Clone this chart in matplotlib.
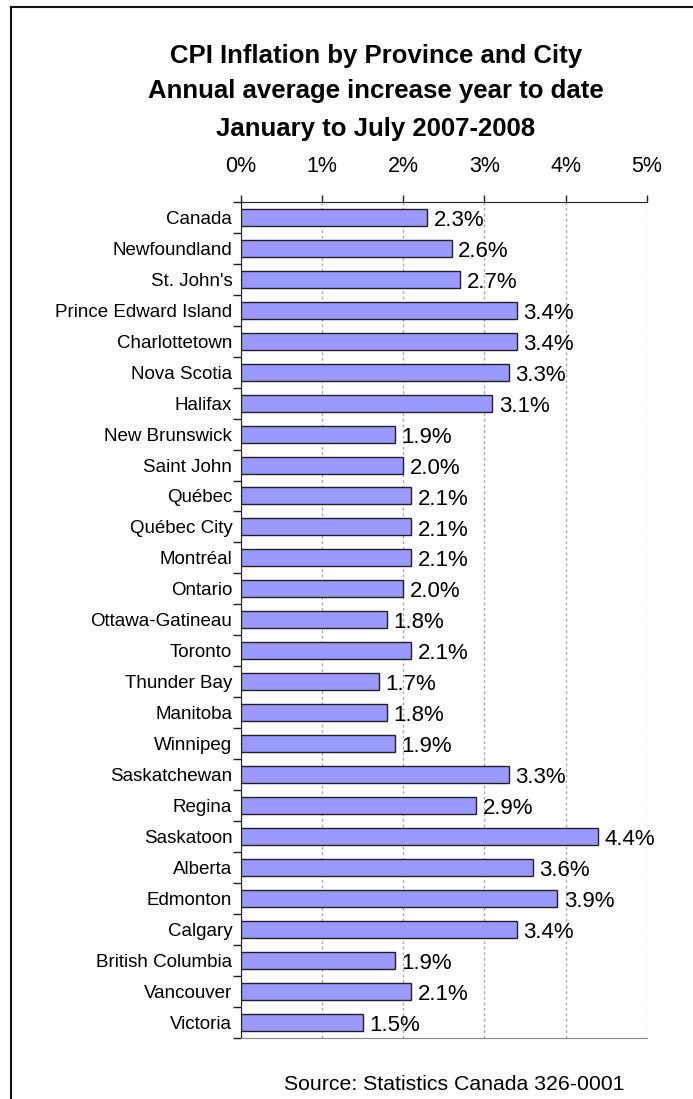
import matplotlib
matplotlib.use("Agg")
import matplotlib.pyplot as plt
from matplotlib.lines import Line2D
import numpy as np

plt.rcParams['font.family'] = ['Liberation Sans', 'DejaVu Sans']

# 資料
places = ["Canada", "Newfoundland", "St. John's", "Prince Edward Island",
          "Charlottetown", "Nova Scotia", "Halifax", "New Brunswick",
          "Saint John", "Québec", "Québec City", "Montréal", "Ontario",
          "Ottawa-Gatineau", "Toronto", "Thunder Bay", "Manitoba", "Winnipeg",
          "Saskatchewan", "Regina", "Saskatoon", "Alberta", "Edmonton",
          "Calgary", "British Columbia", "Vancouver", "Victoria"]
cpi = [2.3, 2.6, 2.7, 3.4, 3.4, 3.3, 3.1, 1.9, 2.0, 2.1, 2.1, 2.1, 2.0,
       1.8, 2.1, 1.7, 1.8, 1.9, 3.3, 2.9, 4.4, 3.6, 3.9, 3.4, 1.9, 2.1, 1.5]
xticks = [0, 1, 2, 3, 4, 5]
xtick_labels = ["0%", "1%", "2%", "3%", "4%", "5%"]

W, H = 693, 1099
fig = plt.figure(figsize=(W / 100, H / 100), dpi=100)
ax = fig.add_axes([240.7 / W, 1 - 1037.5 / H, (646.7 - 240.7) / W, (1037.5 - 202) / H])

y = np.arange(len(places))
ax.barh(y, cpi, height=0.55, color="#9999FF", edgecolor="#222222", linewidth=1, zorder=3)

for yi, v in zip(y, cpi):
    ax.text(v + 0.08, yi + 0.1, f"{v:.1f}%", va="center", ha="left", fontsize=16, zorder=4)

ax.set_xlim(0, 5)
ax.set_ylim(len(places) - 0.5, -0.5)

# x 座標在上方
ax.xaxis.tick_top()
ax.set_xticks(xticks)
ax.set_xticklabels(xtick_labels, fontsize=15.5)
ax.tick_params(axis="x", direction="out", length=5, width=1, pad=13, color="#222222")
ax.grid(axis="x", color="#aaaaaa", linestyle=(0, (2, 2)), linewidth=1, zorder=1)

# y 座標：刻度在類別之間
ax.set_yticks(y)
ax.set_yticklabels(places, fontsize=13.5)
ax.set_yticks(np.arange(len(places) + 1) - 0.5, minor=True)
ax.tick_params(axis="y", which="major", length=0, pad=6)
ax.tick_params(axis="y", which="minor", length=6, width=1, color="#222222")

ax.spines["right"].set_visible(False)
ax.spines["top"].set_color("#222222")
ax.spines["left"].set_color("#222222")
ax.spines["bottom"].set_color("#888888")

title_lines = ["CPI Inflation by Province and City",
               "Annual average increase year to date",
               "January to July 2007-2008"]
for line, ty in zip(title_lines, [56, 91, 129]):
    fig.text(376 / W, 1 - ty / H, line, ha="center", va="center",
             fontsize=18.5, fontweight="bold")

fig.text(454 / W, 1 - 1084 / H, "Source: Statistics Canada 326-0001",
         ha="center", va="center", fontsize=15.3)

# 外框
fig.add_artist(Line2D([11 / W, 11 / W], [0, 1 - 7 / H], color="#111111", linewidth=1.5))
fig.add_artist(Line2D([11 / W, 1], [1 - 7 / H, 1 - 7 / H], color="#111111", linewidth=1.5))

fig.savefig("out.png", dpi=100)
